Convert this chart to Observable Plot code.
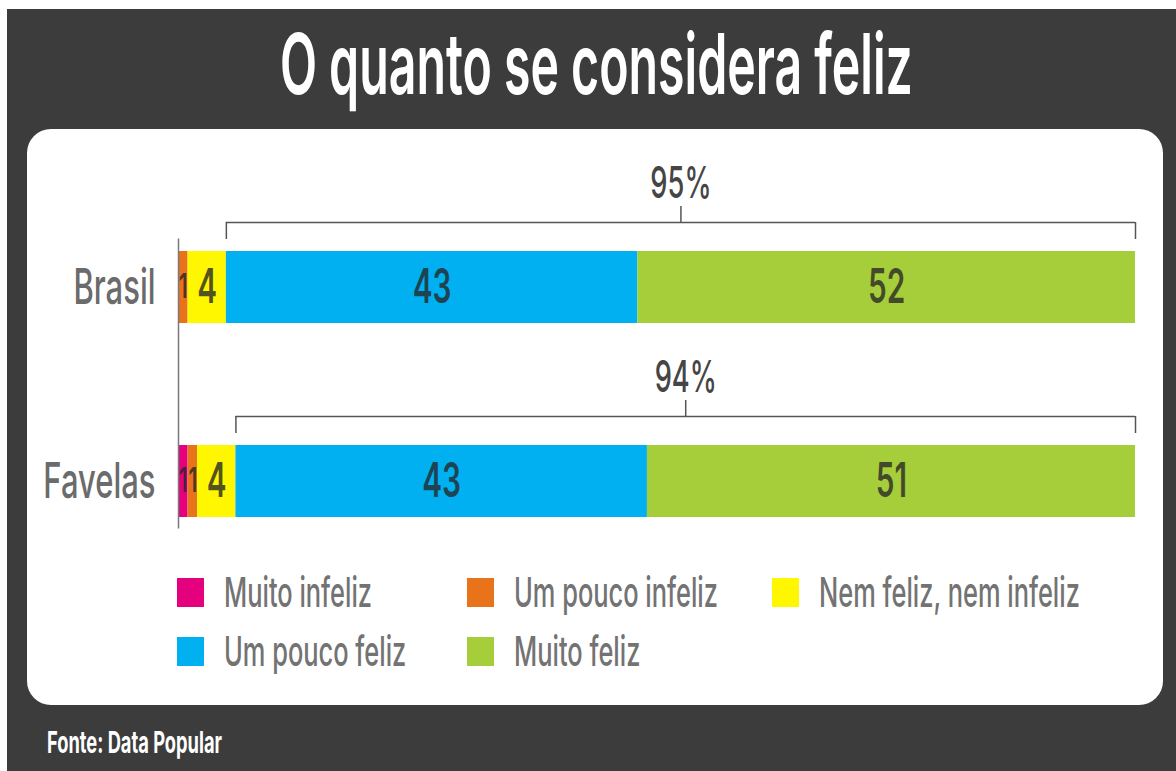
<!DOCTYPE html>
<html>
<head>
<meta charset="utf-8">
<script src="https://cdn.jsdelivr.net/npm/d3@7"></script>
<script src="https://cdn.jsdelivr.net/npm/@observablehq/plot@0.6"></script>
<style>
  html, body { margin: 0; padding: 0; background: #ffffff; width: 1176px; height: 771px; overflow: hidden; font-family: Inter, "Noto Sans", sans-serif; }
  #bg { position: absolute; left: 7px; top: 9px; width: 1169px; height: 762px; background: #3c3c3c; }
  #titlebox { position: absolute; left: 0; top: 21.5px; width: 1192px; text-align: center; }
  #title { display: inline-block; margin: 0; font-size: 84px; line-height: 84px; font-weight: 600; color: #ffffff; white-space: nowrap; transform-origin: 50% 0; }
  #panel { position: absolute; left: 27px; top: 129px; width: 1136px; height: 576px; background: #ffffff; border-radius: 24px; }
  #chart { position: absolute; left: 0; top: 0; }
  #legend { position: absolute; left: 150px; top: 449px; display: grid; grid-template-columns: 290px 305px 300px; row-gap: 30px; }
  .item { position: relative; height: 29px; }
  .sw { position: absolute; left: 0; top: 0; width: 27px; height: 29px; }
  .lt { position: absolute; left: 47px; top: -6.4px; font-size: 41px; line-height: 41px; font-weight: 500; color: #737373; white-space: nowrap; transform: scaleX(0.62); transform-origin: 0 0; }
  #footer { position: absolute; left: 47px; top: 727px; font-size: 30px; line-height: 30px; font-weight: 700; color: #ffffff; white-space: nowrap; transform-origin: 0 0; }
</style>
</head>
<body>
<div id="bg"></div>
<div id="titlebox"><h1 id="title">O quanto se considera feliz</h1></div>
<div id="panel">
  <div id="chart"></div>
  <div id="legend"></div>
</div>
<div id="footer">Fonte: Data Popular</div>
<script>
// ---- data ----
const groups = ["Brasil", "Favelas"];
const categories = ["Muito infeliz", "Um pouco infeliz", "Nem feliz, nem infeliz", "Um pouco feliz", "Muito feliz"];
const colors = ["#e5007d", "#e8731a", "#fff700", "#00b0f0", "#a6cd3a"];
const brasil = [0, 1, 4, 43, 52];
const favelas = [1, 1, 4, 43, 51];
const seriesValues = [brasil, favelas];
const happyCategories = ["Um pouco feliz", "Muito feliz"];

// ---- tables built from the arrays ----
const rows = [];
groups.forEach((g, k) => {
  categories.forEach((c, i) => rows.push({group: g, category: c, value: seriesValues[k][i]}));
});
const brackets = groups.map((g, k) => {
  const vals = seriesValues[k];
  const firstHappy = categories.indexOf(happyCategories[0]);
  const start = d3.sum(vals.slice(0, firstHappy));
  const happy = d3.sum(vals.slice(firstHappy));
  return {group: g, x1: start, x2: start + happy, mid: start + happy / 2, label: happy + "%"};
});

const bracketColor = "#555555";

const chart = Plot.plot({
  width: 1136,
  height: 420,
  marginLeft: 151,
  marginRight: 28,
  marginTop: 109.5,
  marginBottom: 20.5,
  style: {fontFamily: "Inter, sans-serif", color: "#6b6b6b", background: "transparent", overflow: "visible"},
  x: {domain: [0, 100], axis: null},
  y: {type: "band", domain: groups, paddingInner: 1 - 72 / 195, paddingOuter: 0.059, axis: null},
  color: {domain: categories, range: colors},
  marks: [
    Plot.barX(rows, Plot.stackX({x: "value", y: "group", fill: "category", order: null})),
    Plot.text(rows, Plot.stackX({
      x: "value", y: "group", order: null,
      text: d => d.value > 0 ? String(d.value) : null,
      fontSize: d => d.value < 2 ? 34 : 48,
      fill: "#262626", fillOpacity: 0.78, fontWeight: 600
    })),
    Plot.ruleY(brackets, {y: "group", x1: "x1", x2: "x2", dy: -65, stroke: bracketColor, strokeWidth: 1.5}),
    Plot.tickX(brackets, {x: "x1", y: "group", dy: -29, insetBottom: 55, stroke: bracketColor, strokeWidth: 1.5}),
    Plot.tickX(brackets, {x: "x2", y: "group", dy: -29, insetBottom: 55, stroke: bracketColor, strokeWidth: 1.5}),
    Plot.tickX(brackets, {x: "mid", y: "group", dy: -45, insetBottom: 56, stroke: bracketColor, strokeWidth: 1.5}),
    Plot.text(brackets, {x: "mid", y: "group", text: "label", dy: -104, fontSize: 44, fontWeight: 500, fill: "#454545"}),
    Plot.ruleX([0], {stroke: "#7a7a7a", strokeWidth: 1.5}),
    Plot.axisY({tickSize: 0, tickPadding: 23, fontSize: 50, fontWeight: 500, label: null, fill: "#6b6b6b"})
  ]
});

// condense all chart texts horizontally (the original uses a compressed typeface)
chart.querySelectorAll("text").forEach(t => {
  const tr = t.getAttribute("transform") || "";
  t.setAttribute("transform", (tr + " scale(0.62,1)").trim());
});
document.getElementById("chart").appendChild(chart);

// ---- legend ----
const legend = document.getElementById("legend");
categories.forEach((c, i) => {
  const item = document.createElement("div");
  item.className = "item";
  const sw = document.createElement("div");
  sw.className = "sw";
  sw.style.background = colors[i];
  const lt = document.createElement("span");
  lt.className = "lt";
  lt.textContent = c;
  item.appendChild(sw);
  item.appendChild(lt);
  legend.appendChild(item);
});

// ---- fit condensed title & footer widths ----
function fitWidth(el, target) {
  const w = el.getBoundingClientRect().width;
  if (w > 0) el.style.transform = `scaleX(${target / w})`;
}
fitWidth(document.getElementById("title"), 633);
fitWidth(document.getElementById("footer"), 175);
</script>
</body>
</html>
